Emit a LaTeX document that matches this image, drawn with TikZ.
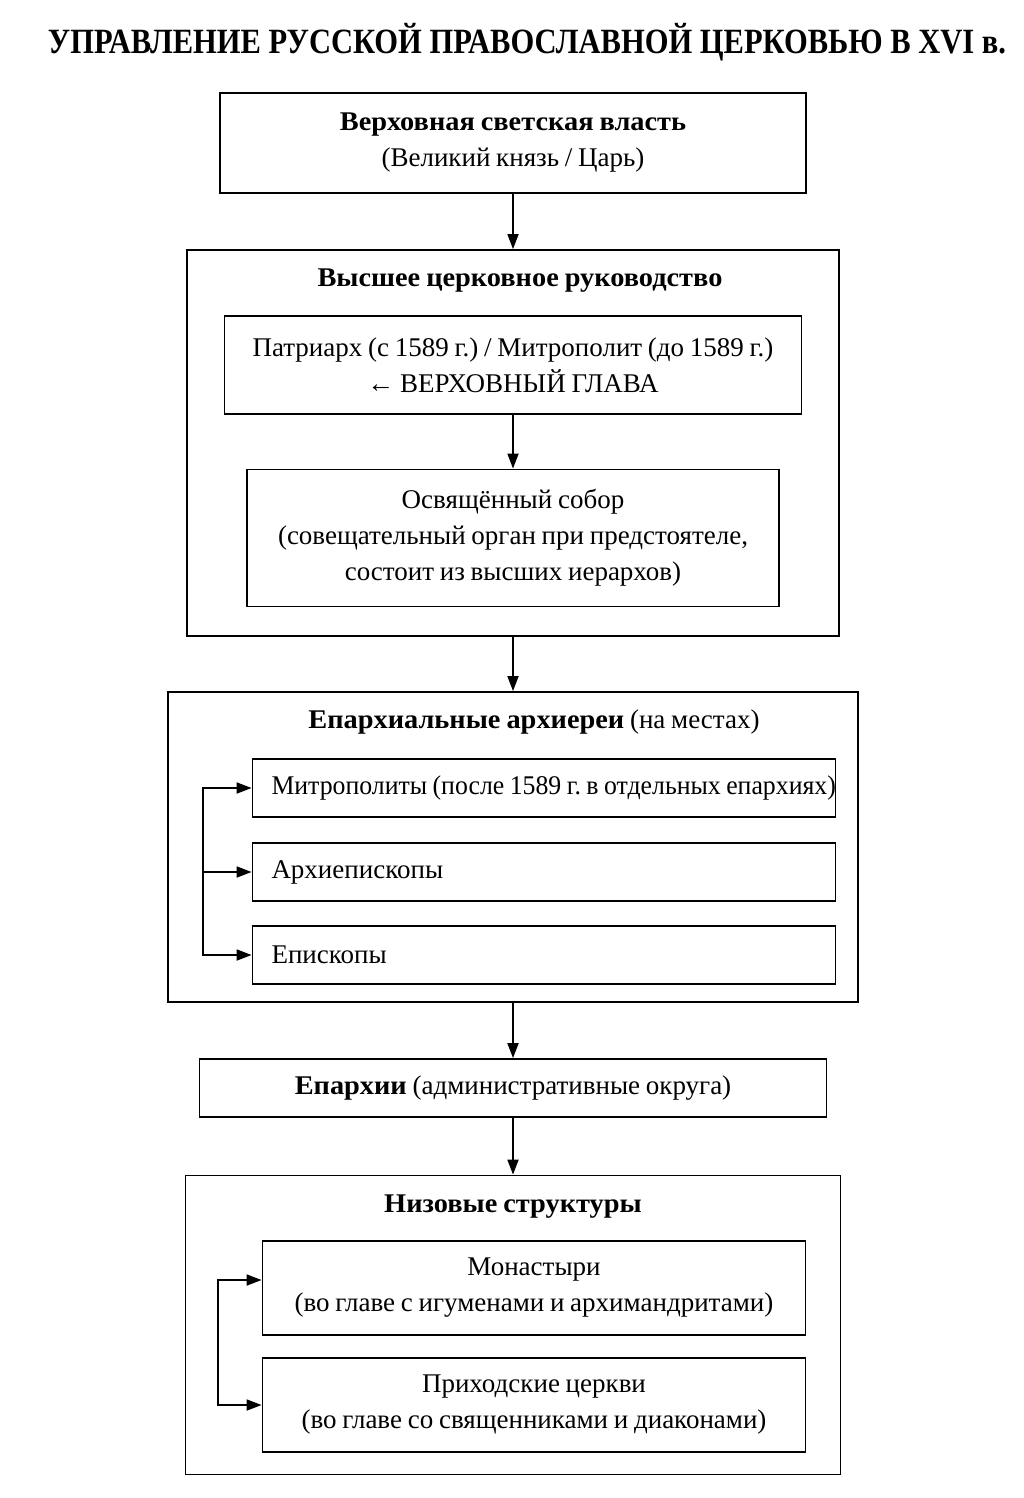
\documentclass[tikz,border=0pt]{standalone}
\usepackage{fontspec}
\setmainfont[WordSpace=0.85,BoldFeatures={FakeStretch=1.05}]{Liberation Serif}
\newfontfamily\titlefont[FakeStretch=0.86]{Liberation Serif}
\usetikzlibrary{arrows.meta,graphs}
\frenchspacing
\newcommand\rowtext[1]{\makebox[545pt][l]{#1}}

\tikzset{
  box/.style={draw, line width=1.8pt, inner sep=0pt, align=center},
  row/.style={box, minimum width=583pt, minimum height=58pt, inner xsep=19pt},
  >={Triangle[length=15pt,width=11pt]}
}

\begin{document}
\begin{tikzpicture}[x=1pt,y=-1pt,line width=1.8pt,
    font=\fontsize{27}{36}\selectfont]
      \useasboundingbox (0,0) rectangle (1024,1498);

      \node (t) at (527,42) {\titlefont\bfseries\fontsize{35.5}{40}\selectfont
        УПРАВЛЕНИЕ РУССКОЙ ПРАВОСЛАВНОЙ ЦЕРКОВЬЮ В XVI в.};

      \node[box, minimum width=586pt, minimum height=100pt] (sv) at (513,143)
        {\textbf{Верховная светская власть}\\(Великий князь / Царь)};

      \node[box, minimum width=652pt, minimum height=386pt] (cr) at (513,443) {};
      \node (crt) at (520,281) {\textbf{Высшее церковное руководство}};
      \node[box, minimum width=577pt, minimum height=98pt] (pm) at (513,365)
        {Патриарх (с 1589 г.) / Митрополит (до 1589 г.)\\← ВЕРХОВНЫЙ ГЛАВА};
      \node[box, minimum width=532pt, minimum height=137pt] (os) at (513,538)
        {Освящённый собор\\(совещательный орган при предстоятеле,\\состоит из высших иерархов)};

      \node[box, minimum width=690pt, minimum height=310pt] (ea) at (513,847) {};
      \node (eat) at (534,722) {\textbf{Епархиальные архиереи} (на местах)};
      \node[row] (mit) at (544,788)
        {\rowtext{\scalebox{0.955}[1]{Митрополиты (после 1589 г. в отдельных епархиях)}}};
      \node[row] (arch) at (544,872) {\rowtext{Архиепископы}};
      \node[row] (epi) at (544,955) {\rowtext{Епископы}};

      \node[box, minimum width=627pt, minimum height=58pt] (dio) at (513,1088)
        {\textbf{Епархии} (административные округа)};

      \node[box, minimum width=655pt, minimum height=299pt] (low) at (513,1325) {};
      \node (lowt) at (513,1207) {\textbf{Низовые структуры}};
      \node[box, minimum width=543pt, minimum height=94pt] (mon) at (534,1288)
        {Монастыри\\(во главе с игуменами и архимандритами)};
      \node[box, minimum width=543pt, minimum height=94pt] (par) at (534,1405)
        {Приходские церкви\\(во главе со священниками и диаконами)};

      \graph[use existing nodes] {
        sv -> cr;
        pm -> os;
        cr -> ea;
        ea -> dio;
        dio -> low;
      };

      \coordinate (ja) at (203,872);
      \draw[->] (ja) |- (mit);
      \draw[->] (ja) -- (arch);
      \draw[->] (ja) |- (epi);

      \coordinate (jl) at (218,1343);
      \draw[->] (jl) |- ([yshift=8pt]mon.west);
      \draw[->] (jl) |- (par);
  \end{tikzpicture}
\end{document}
